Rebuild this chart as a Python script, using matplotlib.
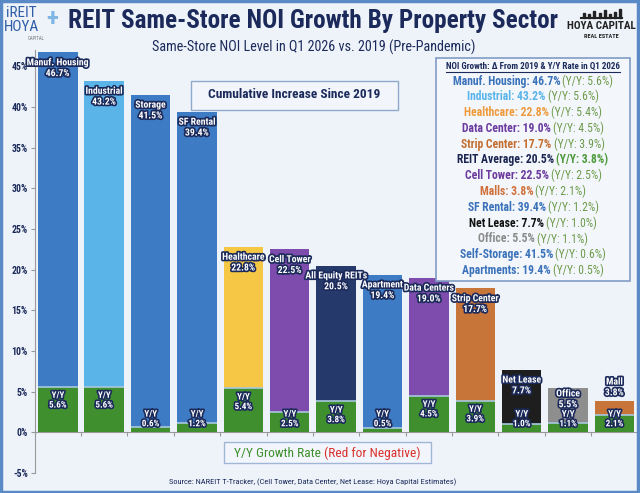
import matplotlib
matplotlib.use('Agg')
import matplotlib.pyplot as plt
import matplotlib.patheffects as pe
from matplotlib import font_manager
from matplotlib.patches import Rectangle
import numpy as np

# data
sectors = ['Manuf. Housing', 'Industrial', 'Storage', 'SF Rental', 'Healthcare', 'Cell Tower',
           'All Equity REITs', 'Apartment', 'Data Centers', 'Strip Center', 'Net Lease', 'Office', 'Mall']
cum_growth = [46.7, 43.2, 41.5, 39.4, 22.8, 22.5, 20.5, 19.4, 19.0, 17.7, 7.7, 5.5, 3.8]
yoy_growth = [5.6, 5.6, 0.6, 1.2, 5.4, 2.5, 3.8, 0.5, 4.5, 3.9, 1.0, 1.1, 2.1]
bar_colors = ['#3D7CC4', '#5BB4E8', '#3D7CC4', '#3D7CC4', '#F5C744', '#7D4CAD', '#26396B',
              '#3D7CC4', '#7D4CAD', '#C8753A', '#1E1E1E', '#8E8E8E', '#C8753A']

legend_names = ['Manuf. Housing', 'Industrial', 'Healthcare', 'Data Center', 'Strip Center',
                'REIT Average', 'Cell Tower', 'Malls', 'SF Rental', 'Net Lease', 'Office',
                'Self-Storage', 'Apartments']
legend_cum = [46.7, 43.2, 22.8, 19.0, 17.7, 20.5, 22.5, 3.8, 39.4, 7.7, 5.5, 41.5, 19.4]
legend_yoy = [5.6, 5.6, 5.4, 4.5, 3.9, 3.8, 2.5, 2.1, 1.2, 1.0, 1.1, 0.6, 0.5]
legend_colors = ['#3B72B9', '#5BB4E8', '#EE9A3C', '#6B3B9E', '#C46E30', '#1B2550', '#6B3B9E',
                 '#D0703A', '#3B72B9', '#111111', '#8A8A8A', '#3B72B9', '#3B72B9']

# font
FONT = 'DejaVu Sans'
for f in ['Liberation Sans Narrow', 'Roboto Condensed', 'Open Sans Condensed', 'DejaVu Sans']:
    try:
        font_manager.findfont(f, fallback_to_default=False)
        FONT = f
        break
    except Exception:
        pass
plt.rcParams['font.family'] = [FONT, 'DejaVu Sans']

NAVY = '#1B2A5A'
BG = '#EEF3FA'
GREEN = '#3F8F2E'

fig = plt.figure(figsize=(6.4, 4.93), dpi=100, facecolor=BG)
W, H = 640, 493

# outer frame
fig.patches.append(Rectangle((0.002, 0.003), 0.995, 0.994, transform=fig.transFigure,
                             fill=False, edgecolor='#5A8AC6', linewidth=2.5))

ax = fig.add_axes([34.6 / W, 1 - 473 / H, 603 / W, (473 - 50) / H])
ax.set_facecolor('none')

x = np.arange(len(sectors))
ax.bar(x, cum_growth, width=0.85, color=bar_colors, zorder=2)
ax.bar(x, yoy_growth, width=0.85, color=GREEN, zorder=3)
ax.hlines(yoy_growth, x - 0.425, x + 0.425, color='#A8C8E0', linewidth=1.2, zorder=4)

ax.set_xlim(-0.5, len(sectors) - 0.5)
ax.set_ylim(-5, 47)
ax.set_yticks(np.arange(-5, 46, 5))
ax.set_yticklabels([f'{v}%' for v in range(-5, 46, 5)], fontsize=7, fontweight='bold', color=NAVY)
ax.set_xticks(np.arange(-0.5, len(sectors), 1))
ax.set_xticklabels([])
ax.tick_params(axis='both', length=3, color='#999999', pad=2)
for s in ['top', 'right']:
    ax.spines[s].set_visible(False)
ax.spines['left'].set_color('#999999')
ax.spines['bottom'].set_color('#999999')
ax.spines['bottom'].set_position(('data', 0))

stroke = [pe.withStroke(linewidth=2.4, foreground=NAVY)]

# sector labels
for xi, name, v in zip(x, sectors, cum_growth):
    if v < 5:
        ypos, va = v + 0.5, 'bottom'
    elif v < 6:
        ypos, va = v - 0.1, 'top'
    else:
        ypos, va = v - 0.6, 'top'
    ax.text(xi, ypos, f'{name}\n{v:.1f}%', ha='center', va=va, color='white',
            fontsize=7.0, fontweight='bold', linespacing=1.1, path_effects=stroke, zorder=6)

# Y/Y labels
for xi, v in zip(x, yoy_growth):
    ax.text(xi, max(v - 0.5, 2.8), f'Y/Y\n{v:.1f}%', ha='center', va='top', color='white',
            fontsize=6.5, fontweight='bold', linespacing=1.1, path_effects=stroke, zorder=6)

renderer = fig.canvas.get_renderer()


def rich_line(cx, cy, parts, size, gap=3):
    texts = []
    for s, c, w in parts:
        t = fig.text(0, cy, s, color=c, fontweight=w, fontsize=size, va='center', ha='left')
        texts.append(t)
    widths = [t.get_window_extent(renderer).width for t in texts]
    total = sum(widths) + gap * (len(parts) - 1)
    x0 = cx * W - total / 2
    for t, w in zip(texts, widths):
        t.set_x(x0 / W)
        x0 += w + gap


# title
fig.text(313 / W, 1 - 21 / H, 'REIT Same-Store NOI Growth By Property Sector', ha='center', va='center',
         fontsize=18.2, fontweight='bold', color=NAVY)
fig.text(314 / W, 1 - 47 / H, 'Same-Store NOI Level in Q1 2026 vs. 2019 (Pre-Pandemic)', ha='center',
         va='center', fontsize=10.2, color=NAVY)

# logos
fig.text(6 / W, 1 - 13 / H, 'iREIT', fontsize=11, color='#2F5DA8', va='center', ha='left')
fig.text(4 / W, 1 - 27 / H, 'HOYA', fontsize=11, color='#2F5DA8', va='center', ha='left')
fig.text(52 / W, 1 - 19 / H, '+', fontsize=18, color='#7FB6E6', fontweight='bold', va='center', ha='center')
fig.text(36 / W, 1 - 38 / H, 'CAPITAL', fontsize=3.5, color='#777777', va='center', ha='center')
fig.text(601 / W, 1 - 26 / H, 'HOYA CAPITAL', fontsize=8, color='#222222', va='center', ha='center',
         fontweight='bold')
fig.text(601 / W, 1 - 37 / H, 'REAL ESTATE', fontsize=4.5, color='#222222', va='center', ha='center',
         fontweight='bold')
fig.lines.append(plt.Line2D([581 / W, 622 / W], [1 - 18 / H, 1 - 18 / H], transform=fig.transFigure,
                            color='#222222', linewidth=1.5))
for sx, sh in [(583, 5), (588, 4), (593, 7), (599, 5), (604, 8), (609, 4), (614, 6), (619, 9)]:
    fig.patches.append(Rectangle((sx / W, 1 - 18 / H), 2 / W, sh / H, transform=fig.transFigure,
                                 color='#222222'))

# cumulative box
fig.patches.append(Rectangle((191 / W, 1 - 110 / H), 207 / W, 29 / H, transform=fig.transFigure,
                             facecolor='#F2F6FC', edgecolor='#8FA9CC', linewidth=1, zorder=1))
fig.text(294 / W, 1 - 95 / H, 'Cumulative Increase Since 2019', ha='center', va='center',
         fontsize=9.6, fontweight='bold', color=NAVY, zorder=7)

# legend box
fig.patches.append(Rectangle((436 / W, 1 - 281 / H), 194 / W, 223 / H, transform=fig.transFigure,
                             facecolor='#F3F7FC', edgecolor='#7F9CC4', linewidth=1.2, zorder=1))
hdr = fig.text(533 / W, 1 - 66 / H, 'NOI Growth: Δ From 2019 & Y/Y Rate in Q1 2026', ha='center',
               va='center', fontsize=6.5, fontweight='bold', color=NAVY)
hb = hdr.get_window_extent(renderer)
fig.lines.append(plt.Line2D([hb.x0 / W, hb.x1 / W], [(hb.y0 - 1) / H, (hb.y0 - 1) / H],
                            transform=fig.transFigure, color=NAVY, linewidth=0.8))
for i, (nm, cv, yv, col) in enumerate(zip(legend_names, legend_cum, legend_yoy, legend_colors)):
    cy = 1 - (81 + i * 15.8) / H
    ycol, ywt = ('#4E9A3A', 'bold') if nm == 'REIT Average' else ('#6E9A4A', 'normal')
    rich_line(533 / W, cy, [(f'{nm}: {cv:.1f}%', col, 'bold'), (f'(Y/Y: {yv:.1f}%)', ycol, ywt)], 8.4,
              gap=2)

# Y/Y growth box
fig.patches.append(Rectangle((224 / W, 1 - 463 / H), 207 / W, 21 / H, transform=fig.transFigure,
                             facecolor='#F2F6FC', edgecolor='#9FB6D4', linewidth=1, zorder=1))
rich_line(327.5 / W, 1 - 453 / H, [('Y/Y Growth Rate', '#3F8F2E', 'normal'),
                                   ('(Red for Negative)', '#D9302C', 'normal')], 9.6)

fig.text(313 / W, 1 - 482 / H, 'Source: NAREIT T-Tracker, (Cell Tower, Data Center, Net Lease: Hoya Capital Estimates)',
         ha='center', va='center', fontsize=6, color=NAVY)

fig.savefig('out.png', dpi=100, facecolor=BG)
